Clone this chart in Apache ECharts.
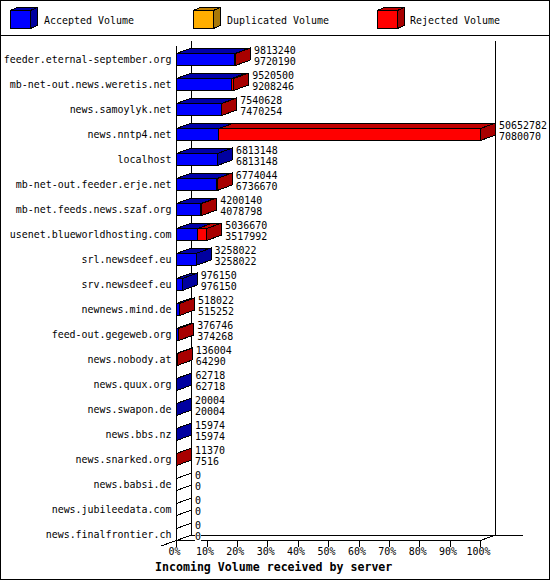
<!DOCTYPE html>
<html>
<head>
<meta charset="utf-8">
<style>
html,body{margin:0;padding:0;background:#fff}
#c{width:550px;height:580px}
#c path{shape-rendering:crispEdges}
</style>
<script src="https://cdn.jsdelivr.net/npm/echarts@6/dist/echarts.min.js"></script>
</head>
<body>
<div id="c"></div>
<script>
const categories = ['feeder.eternal-september.org','mb-net-out.news.weretis.net','news.samoylyk.net','news.nntp4.net','localhost','mb-net-out.feeder.erje.net','mb-net.feeds.news.szaf.org','usenet.blueworldhosting.com','srl.newsdeef.eu','srv.newsdeef.eu','newnews.mind.de','feed-out.gegeweb.org','news.nobody.at','news.quux.org','news.swapon.de','news.bbs.nz','news.snarked.org','news.babsi.de','news.jubileedata.com','news.finalfrontier.ch'];
const totalVolume = [9813240,9520500,7540628,50652782,6813148,6774044,4200140,5036670,3258022,976150,518022,376746,136004,62718,20004,15974,11370,0,0,0];
const acceptedVolume = [9720190,9208246,7470254,7080070,6813148,6736670,4078798,3517992,3258022,976150,515252,374268,64290,62718,20004,15974,7516,0,0,0];
const duplicatedVolume = categories.map(() => 0);
const legendNames = ['Accepted Volume','Duplicated Volume','Rejected Volume'];
const axisTitle = 'Incoming Volume received by server';

const mono = '"DejaVu Sans Mono", monospace';
const DX = 15, DY = -5.5, BAR_H = 12;
const L = 176.5, R = 480.5, T = 40.5, B = 540.5, W = 550, H = 580;
const colors = {
  accepted: ['#0000FF', '#0000AA', '#0000A0'],
  duplicated: ['#FFAE00', '#C08000', '#A87808'],
  rejected: ['#FF0000', '#C00000', '#A80000']
};
const maxV = Math.max(...totalVolume);
const pct = v => v / maxV * 100;

function faces(x0, x1, top, fill, zeroWhite) {
  const bot = top + BAR_H;
  const s = c => ({ fill: c, stroke: '#000', lineWidth: 1 });
  return [
    { type: 'polygon', shape: { points: [[x0, top], [x0 + DX, top + DY], [x1 + DX, top + DY], [x1, top]] }, style: s(fill[1]) },
    { type: 'polygon', shape: { points: [[x1, top], [x1 + DX, top + DY], [x1 + DX, bot + DY], [x1, bot]] }, style: s(zeroWhite ? '#fff' : fill[2]) },
    { type: 'polygon', shape: { points: [[x0, top], [x1, top], [x1, bot], [x0, bot]] }, style: s(fill[0]) }
  ];
}
function segmentRender(fill) {
  return function (params, api) {
    const start = api.value(0), end = api.value(1), idx = api.value(2);
    if (end <= start && end > 0) return null;
    if (end === 0 && fill !== colors.accepted) return null;
    const a = api.coord([start, idx]), b = api.coord([end, idx]);
    return { type: 'group', children: faces(a[0], b[0], a[1] + 0.5, fill, end === 0) };
  };
}
function segSeries(name, fill, starts, ends) {
  return {
    type: 'custom', name, clip: false, z: 3,
    renderItem: segmentRender(fill),
    encode: { x: [0, 1], y: 2 },
    data: categories.map((c, i) => [starts[i], ends[i], i])
  };
}
const acceptedEnd = acceptedVolume.map(pct);
const dupEnd = acceptedVolume.map((v, i) => pct(v + duplicatedVolume[i]));
const totalEnd = totalVolume.map(pct);

function cube(x, c) {
  const l = x + 0.5, r = l + 20, t = 10.5, b = 28.5, dx = 6.5, dy = -3;
  const s = f => ({ fill: f, stroke: '#000', lineWidth: 1 });
  return [
    { type: 'polygon', z: 5, shape: { points: [[l, t], [l + dx, t + dy], [r + dx, t + dy], [r, t]] }, style: s(c[1]) },
    { type: 'polygon', z: 5, shape: { points: [[r, t], [r + dx, t + dy], [r + dx, b + dy], [r, b]] }, style: s(c[2]) },
    { type: 'polygon', z: 5, shape: { points: [[l, t], [r, t], [r, b], [l, b]] }, style: s(c[0]) }
  ];
}
const line = (x1, y1, x2, y2) => ({ type: 'line', z: 0, shape: { x1, y1, x2, y2 }, style: { stroke: '#000', lineWidth: 1 } });
const legendText = (x, t) => ({ type: 'text', z: 5, x, y: 20, style: { text: t, font: '9.96px ' + mono, fill: '#000', verticalAlign: 'middle', align: 'left' } });

const chart = echarts.init(document.getElementById('c'), null, { renderer: 'svg', width: W, height: H });
chart.setOption({
  animation: false,
  backgroundColor: '#fff',
  title: { text: axisTitle, left: 155, top: 561, padding: 0, textStyle: { fontFamily: mono, fontWeight: 'bold', fontSize: 11.6, color: '#000' } },
  grid: { left: L, right: W - R, top: T, height: B - T, containLabel: false },
  xAxis: {
    type: 'value', min: 0, max: 100, interval: 10,
    splitLine: { show: false },
    axisLine: { show: true, lineStyle: { color: '#000', width: 1 } },
    axisTick: { show: true, length: 6, lineStyle: { color: '#000', width: 1 } },
    axisLabel: { formatter: '{value}%', color: '#000', fontFamily: mono, fontSize: 9.96, margin: 6, padding: [0, 4, 0, 0], showMinLabel: true, showMaxLabel: true, hideOverlap: false }
  },
  yAxis: {
    type: 'category', data: categories, inverse: true,
    axisLine: { show: false }, axisTick: { show: false },
    axisLabel: { interval: 0, color: '#000', fontFamily: mono, fontSize: 9.96, margin: 5, verticalAlign: 'top', lineHeight: 12 }
  },
  series: [
    segSeries(legendNames[0], colors.accepted, categories.map(() => 0), acceptedEnd),
    segSeries(legendNames[1], colors.duplicated, acceptedEnd, dupEnd),
    segSeries(legendNames[2], colors.rejected, dupEnd, totalEnd),
    {
      type: 'custom', name: 'Volumes', clip: false, z: 4, silent: true,
      encode: { x: 0, y: 1 },
      data: categories.map((c, i) => [totalEnd[i], i, totalVolume[i], acceptedVolume[i]]),
      renderItem(params, api) {
        const p = api.coord([api.value(0), api.value(1)]);
        const x = p[0] + DX + 3.5, y = p[1] + 6.5;
        const txt = (v, yy) => ({ type: 'text', x, y: yy, style: { text: String(v), font: '9.96px ' + mono, fill: '#000', align: 'left', verticalAlign: 'middle', backgroundColor: '#fff' } });
        return { type: 'group', children: [txt(api.value(2), y - 9), txt(api.value(3), y + 2)] };
      }
    }
  ],
  graphic: [
    { type: 'rect', z: 0, shape: { x: 0.5, y: 0.5, width: 549, height: 579 }, style: { fill: 'none', stroke: '#000', lineWidth: 1 } },
    line(0, 35.5, W, 35.5),
    line(L, 45.5, L, B),
    line(L + DX, T, L + DX, B + DY),
    line(R + DX, T, R + DX, B + DY),
    line(L + DX, B + DY, 522.5, B + DY),
    line(161, 546, L + DX, B + DY),
    line(R, B, R + DX, B + DY),
    ...cube(10, colors.accepted), legendText(44, legendNames[0]),
    ...cube(193, colors.duplicated), legendText(227, legendNames[1]),
    ...cube(377, colors.rejected), legendText(410, legendNames[2])
  ]
});
</script>
</body>
</html>
